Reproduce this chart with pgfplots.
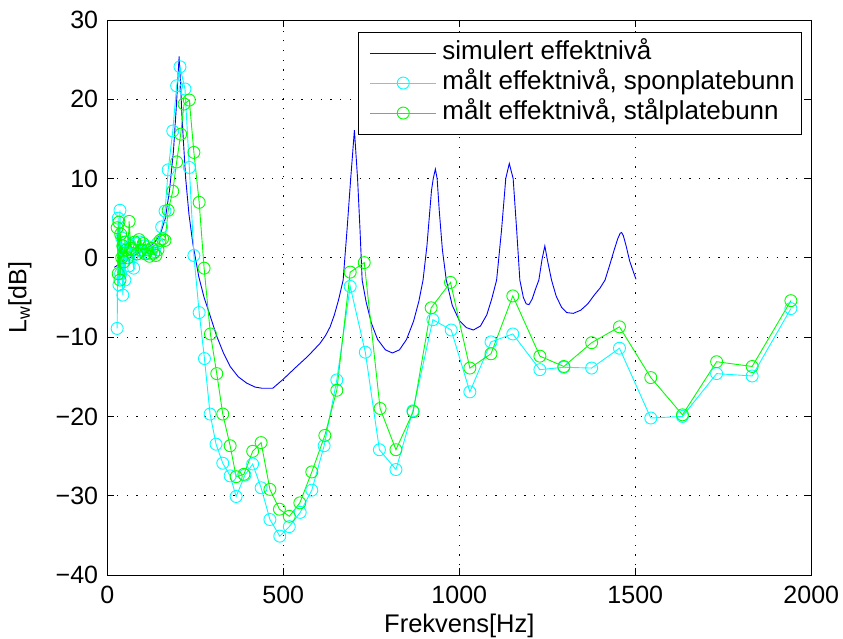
\documentclass[border=0pt]{standalone}
\usepackage{fontspec}
\setmainfont{Liberation Sans}
\usepackage{pgfplots}
\pgfplotsset{compat=1.18}
\definecolor{mblue}{rgb}{0,0,1}
\definecolor{mcyan}{rgb}{0,1,1}
\definecolor{mgreen}{rgb}{0,1,0}
\begin{document}
\fontsize{25bp}{30bp}\selectfont
\begin{tikzpicture}
\useasboundingbox (0,0) rectangle (843bp,639bp);
\begin{axis}[
  at={(107.3bp,64bp)}, anchor=south west,
  scale only axis, width=704bp, height=555bp,
  xmin=0, xmax=2000, ymin=-40, ymax=30,
  xtick={0,500,1000,1500,2000},
  xticklabels={0,500,1000,1500,2000},
  ytick={-40,-30,-20,-10,0,10,20,30},
  yticklabels={−40,−30,−20,−10,0,10,20,30},
  tick align=inside, tick pos=both,
  major tick length=7bp,
  every tick/.style={black, line width=0.8bp},
  axis line style={black, line width=0.8bp},
  tick label style={font=\fontsize{25bp}{30bp}\selectfont, inner sep=0bp},
  xticklabel style={yshift=-11bp},
  yticklabel style={xshift=-9bp},
  grid=major,
  major grid style={black, line width=0.8bp, dash pattern=on 1.2bp off 8.5bp},
  xlabel={Frekvens[Hz]},
  ylabel={L\textsubscript{w}[dB]},
  xlabel style={at={(axis description cs:0.5,0)}, anchor=base, yshift=-57bp, font=\fontsize{25.5bp}{30bp}\selectfont},
  ylabel style={at={(axis description cs:-0.1151,0.5)}, anchor=base, font=\fontsize{25bp}{30bp}\selectfont},
  legend cell align=left,
  legend style={at={(0.9868,0.979)}, anchor=north east, draw=black, line width=0.8bp, fill=white,
    font=\fontsize{26bp}{30bp}\selectfont, inner xsep=5bp, inner ysep=6bp,
    nodes={inner sep=2bp, text height=19bp, text depth=7bp},
    /tikz/every odd column/.append style={column sep=3.7bp}},
  legend image code/.code={\path (0bp,0bp); \draw[mark repeat=2,mark phase=2,#1] plot coordinates {(6bp,0bp) (39bp,0bp) (72bp,0bp)};},
]
\addplot[mblue, line width=0.9bp, mark=none] coordinates {
(20,-1.2)(50,-0.3)(75,0.3)(100,0.9)(120,1.4)(135,2.0)(150,2.9)(165,5.0)(177,8.6)(188,13.5)(196,19)(201,23)(204,25.4)(208,22)(212,18)(216,14.9)(222.7,10)(232,5.5)(243,1.8)
(260,-2.4)(275,-5)(287,-6.6)(311,-9.9)(330,-12)(349,-13.7)(372,-15)(396,-15.8)(420,-16.3)(440,-16.45)(470,-16.45)(500,-15.3)(538,-13.7)(570,-12.4)(604,-10.8)(620,-9.8)(633,-8.7)(645,-7.2)(657,-5.3)(670,-2.8)(681,3.5)(691.5,10)(702,16.1)(711,10)(718,3.5)(724,-2.8)
(735,-5.5)(750,-8.2)(768,-10.3)(790,-11.6)(810,-12)(830,-11.6)(850,-10.3)(870,-8.0)(885,-5.5)(897,-2.8)(908,1.5)(921,8.5)(926,10)(932,11.2)(937,10)(943,6)(952,1)(963,-2.8)(980,-6)(1000,-7.9)(1020,-8.8)(1040,-9.1)(1060,-8.6)(1078,-7.2)(1092,-5.2)(1106,-2.8)
(1120,3.5)(1132,10)(1142,11.9)(1153,10)(1163,3.5)(1172,-2.8)(1182,-5.0)(1190,-5.8)(1198,-5.9)(1207,-5.2)(1216,-4.0)(1226,-2.8)(1235,-0.2)(1243,1.5)(1250,-0.2)(1262,-2.8)(1275,-4.8)(1290,-6.2)(1305,-6.9)(1324,-7.0)(1345,-6.6)(1365,-5.8)(1385,-4.6)(1400,-3.8)(1414,-2.8)(1428,-0.8)(1440,1.0)(1450,2.4)(1457,3.1)(1461,3.2)(1466,2.8)(1474,1.5)(1484,-0.4)(1494,-1.7)(1502,-2.7)
};
\addlegendentry{simulert effektnivå}
\addplot[mcyan, line width=0.9bp, mark=o, mark size=6bp, mark options={solid, line width=0.9bp}] coordinates {
(28,-8.9)(31,5.0)(33,-3.4)(36,6.0)(38,-2.0)(41,2.5)(44,-4.7)(47,1.0)(50,-2.8)(54,2.0)(58,0.5)(62,-1.0)(66,1.5)(70,0.2)(75,-1.3)(80,1.8)(86,0.5)(92,2.0)(98,0.8)(104,1.5)(110,0.6)(116,1.4)(122,0.5)(128,1.2)(134,0.8)(142,1.8)(154.5,3.9)(164,5.9)(173,11.1)(186,16.0)(197,21.7)(206.5,24.1)(220.7,21.3)(233,11.4)(246,0.3)(261,-6.9)(276,-12.7)(292,-19.7)(309,-23.5)(328,-25.9)(349,-27.5)(366,-30.1)(391,-27.4)(413,-26.0)(437,-29.0)(462,-33.0)(490,-35.1)(517,-33.9)(548,-32.1)(581,-29.3)(616,-23.7)(652,-15.4)(690,-3.6)(733,-11.9)(773,-24.2)(820,-26.7)(868,-19.3)(925,-7.8)(977,-9.1)(1030,-16.9)(1090,-10.6)(1152,-9.6)(1229,-14.1)(1297,-13.8)(1376,-13.9)(1455,-11.4)(1544,-20.2)(1634,-20.0)(1731,-14.6)(1832,-14.9)(1942,-6.4)
};
\addlegendentry{målt effektnivå, sponplatebunn}
\addplot[mgreen, line width=0.9bp, mark=o, mark size=6bp, mark options={solid, line width=0.9bp}] coordinates {
(28,3.8)(31,-2.0)(33,4.5)(36,-2.8)(38,3.0)(41,0.0)(44,1.5)(47,-0.5)(50,2.0)(54,1.0)(58,0.0)(62,4.6)(67,1.2)(72,1.0)(78,2.0)(84,0.5)(90,2.3)(96,1.0)(102,1.8)(108,0.5)(114,1.0)(120,0.2)(126,1.2)(132,0.6)(138,0.3)(144,1.0)(150,2.2)(157,2.4)(164,2.2)(173,6.0)(186,8.4)(197,12.1)(208.5,15.6)(218,19.4)(233,19.9)(246,13.3)(261,7.0)(275,-1.3)(293,-9.6)(311,-14.6)(328,-19.7)(349,-23.7)(366,-27.6)(388,-27.3)(413,-24.4)(437,-23.3)(462,-29.2)(489,-31.7)(517,-32.6)(547,-30.9)(581,-27.0)(618,-22.4)(652,-16.7)(690,-1.8)(730,-0.6)(775,-19.0)(820,-24.2)(869,-19.4)(920,-6.3)(975,-3.1)(1030,-13.9)(1090,-12.1)(1152,-4.8)(1229,-12.4)(1297,-13.7)(1376,-10.7)(1455,-8.7)(1544,-15.1)(1634,-19.8)(1731,-13.1)(1832,-13.7)(1942,-5.4)
};
\addlegendentry{målt effektnivå, stålplatebunn}
\end{axis}
\end{tikzpicture}
\end{document}
